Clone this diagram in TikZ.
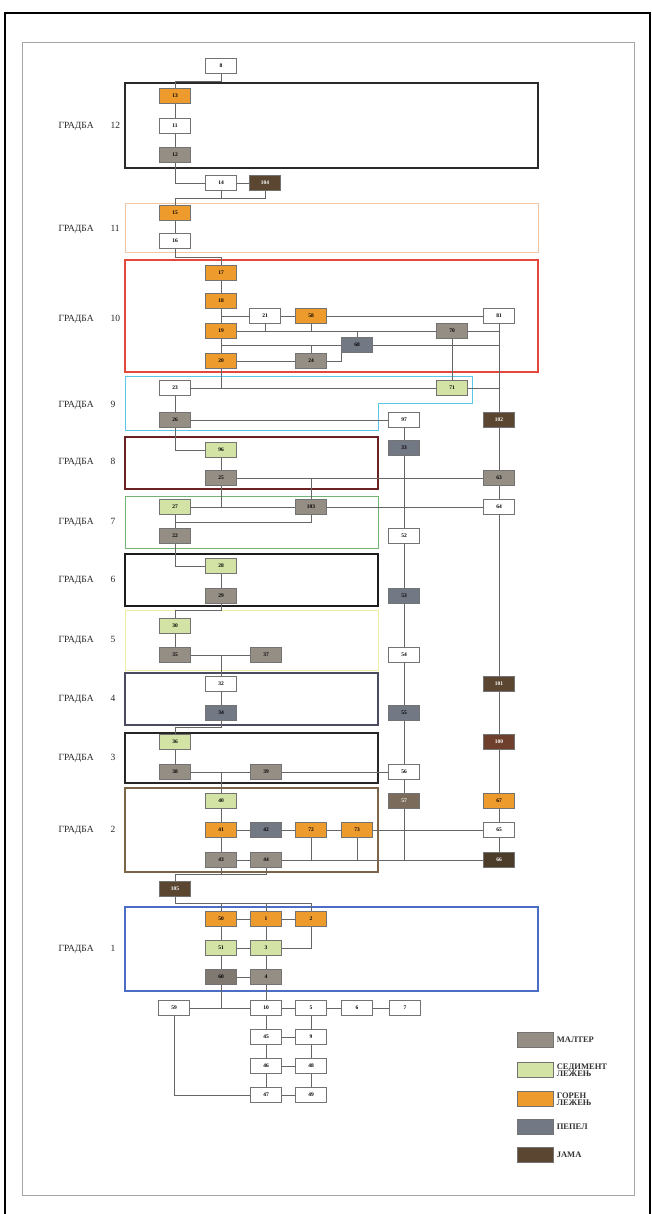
\documentclass[tikz,border=0pt]{standalone}
\usepackage{fontspec}
\setmainfont{Liberation Serif}
\usetikzlibrary{calc}

\definecolor{malc}{HTML}{958E85}
\definecolor{sedc}{HTML}{D3E3A6}
\definecolor{gorc}{HTML}{EE9B2E}
\definecolor{pepc}{HTML}{737885}
\definecolor{jamc}{HTML}{5A4631}
\definecolor{jamr}{HTML}{6E3F2C}
\definecolor{c12}{HTML}{2A2A2A}
\definecolor{c11}{HTML}{F0C6A4}
\definecolor{c10}{HTML}{E4473B}
\definecolor{c9}{HTML}{5CC6E6}
\definecolor{c8}{HTML}{6A2222}
\definecolor{c7}{HTML}{72B272}
\definecolor{c6}{HTML}{1C1C1C}
\definecolor{c5}{HTML}{EEEC9E}
\definecolor{c4}{HTML}{4A4A60}
\definecolor{c3}{HTML}{262626}
\definecolor{c2}{HTML}{7C6449}
\definecolor{c1}{HTML}{4A6EC6}

\begin{document}
\begin{tikzpicture}[x=1pt, y=-1pt,
  box/.style={draw=black!55, line width=0.6pt, minimum width=31pt, minimum height=15pt, inner sep=0pt, font=\fontsize{5.5}{5.5}\selectfont\bfseries},
  bel/.style={box, fill=white},
  mal/.style={box, fill=malc},
  sed/.style={box, fill=sedc},
  gor/.style={box, fill=gorc},
  pep/.style={box, fill=pepc},
  jam/.style={box, fill=jamc},
  lbl/.style={anchor=west, font=\fontsize{9.5}{10}\selectfont, text=black!85},
  leg/.style={anchor=west, align=left, font=\fontsize{8.5}{7.5}\selectfont\bfseries, text=black!80},
  veza/.style={draw=black!60, line width=0.8pt},
  grad/.style={line width=#1}]
\useasboundingbox (0,0) rectangle (652,1214);
\draw [line width=2pt] (5,1214) -- (5,13) -- (650,13) -- (650,1214);
\draw [black!35, line width=0.8pt] (22,42) rectangle (634,1195);

\draw [grad=2.2pt, c12] (125,83) rectangle (538,168);
\draw [grad=1pt, c11] (125,204) rectangle (538,253);
\draw [grad=1.4pt, c10] (125,260) rectangle (538,372);
\draw [grad=1pt, c9] (125,376) -- (472,376) -- (472,403) -- (378,403) -- (378,430) -- (125,430) -- cycle;
\draw [grad=1.8pt, c8] (125,437) rectangle (378,489);
\draw [grad=1pt, c7] (125,496) rectangle (378,548);
\draw [grad=2pt, c6] (125,554) rectangle (378,606);
\draw [grad=1pt, c5] (125,610) rectangle (378,670);
\draw [grad=1.5pt, c4] (125,673) rectangle (378,725);
\draw [grad=1.5pt, c3] (125,733) rectangle (378,783);
\draw [grad=1.2pt, c2] (125,788) rectangle (378,872);
\draw [grad=1.2pt, c1] (125,907) rectangle (538,991);

\node [lbl] (g12) at (55,126) {\makebox[52pt][l]{ГРАДБА}12};
\node [lbl] (g11) at (55,229) {\makebox[52pt][l]{ГРАДБА}11};
\node [lbl] (g10) at (55,319) {\makebox[52pt][l]{ГРАДБА}10};
\node [lbl] (g9) at (55,405) {\makebox[52pt][l]{ГРАДБА}9};
\node [lbl] (g8) at (55,462) {\makebox[52pt][l]{ГРАДБА}8};
\node [lbl] (g7) at (55,522) {\makebox[52pt][l]{ГРАДБА}7};
\node [lbl] (g6) at (55,580) {\makebox[52pt][l]{ГРАДБА}6};
\node [lbl] (g5) at (55,640) {\makebox[52pt][l]{ГРАДБА}5};
\node [lbl] (g4) at (55,699) {\makebox[52pt][l]{ГРАДБА}4};
\node [lbl] (g3) at (55,758) {\makebox[52pt][l]{ГРАДБА}3};
\node [lbl] (g2) at (55,830) {\makebox[52pt][l]{ГРАДБА}2};
\node [lbl] (g1) at (55,949) {\makebox[52pt][l]{ГРАДБА}1};

\node [bel] (t8) at (221,66) {8};
\node [gor] (n13) at (175,96) {13};
\node [bel] (n11) at (175,126) {11};
\node [mal] (n12) at (175,155) {12};
\node [bel] (n14) at (221,183) {14};
\node [jam, text=white] (n104) at (265,183) {104};
\node [gor] (n15) at (175,213) {15};
\node [bel] (n16) at (175,241) {16};

\node [gor] (n17) at (221,273) {17};
\node [gor] (n18) at (221,301) {18};
\node [gor] (n19) at (221,331) {19};
\node [gor] (n20) at (221,361) {20};
\node [bel] (n21) at (265,316) {21};
\node [gor] (n58) at (311,316) {58};
\node [bel] (n81) at (499,316) {81};
\node [mal] (n70) at (452,331) {70};
\node [pep] (n68) at (357,345) {68};
\node [mal] (n24) at (311,361) {24};

\node [bel] (n23) at (175,388) {23};
\node [sed] (n71) at (452,388) {71};
\node [mal] (n26) at (175,420) {26};
\node [bel] (n97) at (404,420) {97};
\node [jam, text=white] (n102) at (499,420) {102};

\node [sed] (n96) at (221,450) {96};
\node [mal] (n25) at (221,478) {25};
\node [pep] (n33) at (404,448) {33};
\node [mal] (n63) at (499,478) {63};

\node [sed] (n27) at (175,507) {27};
\node [mal] (n103) at (311,507) {103};
\node [bel] (n64) at (499,507) {64};
\node [mal] (n22) at (175,536) {22};
\node [bel] (n52) at (404,536) {52};

\node [sed] (n28) at (221,566) {28};
\node [mal] (n29) at (221,596) {29};
\node [pep] (n53) at (404,596) {53};

\node [sed] (n30) at (175,626) {30};
\node [mal] (n35) at (175,655) {35};
\node [mal] (n37) at (266,655) {37};
\node [bel] (n54) at (404,655) {54};

\node [bel] (n32) at (221,684) {32};
\node [pep] (n34) at (221,713) {34};
\node [jam, text=white] (n101) at (499,684) {101};
\node [pep] (n55) at (404,713) {55};

\node [sed] (n36) at (175,742) {36};
\node [mal] (n38) at (175,772) {38};
\node [mal] (n39) at (266,772) {39};
\node [bel] (n56) at (404,772) {56};
\node [jam, fill=jamr, text=white] (n100) at (499,742) {100};

\node [sed] (n40) at (221,801) {40};
\node [jam, fill=jamc!80!white, text=white] (n57) at (404,801) {57};
\node [gor] (n67) at (499,801) {67};
\node [gor] (n41) at (221,830) {41};
\node [pep] (n42) at (266,830) {42};
\node [gor] (n72) at (311,830) {72};
\node [gor] (n73) at (357,830) {73};
\node [bel] (n65) at (499,830) {65};
\node [mal] (n43) at (221,860) {43};
\node [mal] (n44) at (266,860) {44};
\node [jam, fill=jamc!85!black, text=white] (n66) at (499,860) {66};

\node [jam, text=white] (n105) at (175,889) {105};

\node [gor] (n50) at (221,919) {50};
\node [gor] (n1) at (266,919) {1};
\node [gor] (n2) at (311,919) {2};
\node [sed] (n51) at (221,948) {51};
\node [sed] (n3) at (266,948) {3};
\node [mal, fill=malc!85!black] (n60) at (221,977) {60};
\node [mal] (n4) at (266,977) {4};

\node [bel] (n59) at (174,1008) {59};
\node [bel] (n10) at (266,1008) {10};
\node [bel] (n5) at (311,1008) {5};
\node [bel] (n6) at (357,1008) {6};
\node [bel] (n7) at (405,1008) {7};
\node [bel] (n45) at (266,1037) {45};
\node [bel] (n9) at (311,1037) {9};
\node [bel] (n46) at (266,1066) {46};
\node [bel] (n48) at (311,1066) {48};
\node [bel] (n47) at (266,1095) {47};
\node [bel] (n49) at (311,1095) {49};

\draw [veza] (t8.south) -- ++(0,8) -| (n13.north);
\draw [veza] (n13) -- (n11) -- (n12);
\draw [veza] (n12) |- (n14);
\draw [veza] (n14) -- (n104);
\draw [veza] (n104.south) -- ++(0,8) -| (n15.north);
\draw [veza] (n14.south) -- ++(0,8);
\draw [veza] (n15) -- (n16);
\draw [veza] (n16.south) -- ++(0,9) -| (n17.north);

\draw [veza] (n17) -- (n18) -- (n19) -- (n20);
\draw [veza] (n18.south |- n21) -- (n21) -- (n58) -- (n81);
\draw [veza] (n21) -- (n21 |- n70);
\draw [veza] (n58) -- (n58 |- n70);
\draw [veza] (n19) -- (n70);
\draw [veza] (n70) -- (n81.south |- n70);
\draw [veza] (n19.south |- n68) -- (n68) -- (n81.south |- n68);
\draw [veza] (n68) -- (n68 |- n70);
\draw [veza] (n20) -- (n24);
\draw [veza] (n24.east) -| (n68.south west);
\draw [veza] (n24) -- (n24 |- n68);
\draw [veza] (n70) -- (n71);
\draw [veza] (n20) -- (n20 |- n23);

\draw [veza] (n23) -- (n71) -- (n81.south |- n71);
\draw [veza] (n23) -- (n26) -- (n97);
\draw [veza] (n81) -- (n102) -- (n63) -- (n64) -- (n101) -- (n100) -- (n67) -- (n65) -- (n66);
\draw [veza] (n97) -- (n33) -- (n52) -- (n53) -- (n54) -- (n55) -- (n56) -- (n57);
\draw [veza] (n57) -- (n57 |- n66);

\draw [veza] (n26) |- (n96);
\draw [veza] (n96) -- (n25) -- (n63);
\draw [veza] (n25) -- (n25 |- n27);
\draw [veza] (n103) -- (n103 |- n25);
\draw [veza] (n27) -- (n103) -- (n64);
\draw [veza] (n103.south) -- ++(0,8) -| (n27.south);
\draw [veza] (n27) -- (n22);
\draw [veza] (n22) |- (n28);
\draw [veza] (n28) -- (n29);

\draw [veza] (n29.south) -- ++(0,7) -| (n30.north);
\draw [veza] (n30) -- (n35) -- (n37);
\draw [veza] (n32) -- (n32 |- n35);
\draw [veza] (n32) -- (n34);
\draw [veza] (n34.south) -- ++(0,7) -| (n36.north);
\draw [veza] (n36) -- (n38) -- (n39) -- (n56);
\draw [veza] (n40) -- (n40 |- n38);

\draw [veza] (n40) -- (n41) -- (n43);
\draw [veza] (n41) -- (n42) -- (n72) -- (n73) -- (n65);
\draw [veza] (n43) -- (n44) -- (n66);
\draw [veza] (n72) -- (n72 |- n44);
\draw [veza] (n73) -- (n73 |- n44);
\draw [veza] (n43.south) -- ++(0,7) -| (n105.north);
\draw [veza] (n44.south) -- ++(0,7) -- ($(n43.south)+(0,7)$);

\draw [veza] (n105.south) -- ++(0,7) -| (n2.north);
\draw [veza] (n50.north) -- ++(0,-8);
\draw [veza] (n1.north) -- ++(0,-8);
\draw [veza] (n50) -- (n1) -- (n2);
\draw [veza] (n50) -- (n51) -- (n60);
\draw [veza] (n1) -- (n3) -- (n4);
\draw [veza] (n51) -- (n3);
\draw [veza] (n2) |- (n3);
\draw [veza] (n60) -- (n4);
\draw [veza] (n60) -- (n60 |- n59);

\draw [veza] (n59) -- (n10) -- (n5) -- (n6) -- (n7);
\draw [veza] (n4) -- (n10) -- (n45) -- (n46) -- (n47);
\draw [veza] (n5) -- (n9) -- (n48) -- (n49);
\draw [veza] (n45) -- (n9);
\draw [veza] (n46) -- (n48);
\draw [veza] (n47) -- (n49);
\draw [veza] (n59) |- (n47);

\node [mal, minimum width=36pt] (lmal) at (535,1040) {};
\node [sed, minimum width=36pt] (lsed) at (535,1070) {};
\node [gor, minimum width=36pt] (lgor) at (535,1099) {};
\node [pep, minimum width=36pt] (lpep) at (535,1127) {};
\node [jam, minimum width=36pt] (ljam) at (535,1155) {};
\node [leg] at (lmal.east) {МАЛТЕР};
\node [leg] at (lsed.east) {СЕДИМЕНТ\\ЛЕЖЕЊ};
\node [leg] at (lgor.east) {ГОРЕН\\ЛЕЖЕЊ};
\node [leg] at (lpep.east) {ПЕПЕЛ};
\node [leg] at (ljam.east) {ЈАМА};
\end{tikzpicture}
\end{document}
